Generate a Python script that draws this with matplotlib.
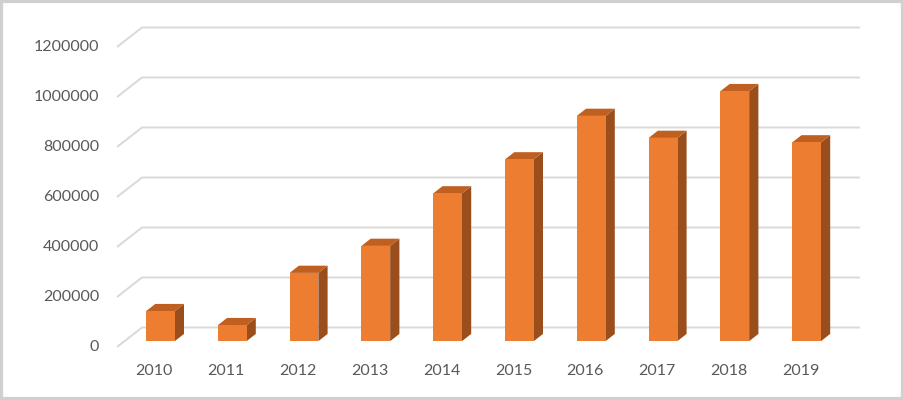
"""Excel-style 3D column chart, 2010-2019."""
import matplotlib.pyplot as plt
from matplotlib.patches import Polygon, Rectangle

years = ["2010", "2011", "2012", "2013", "2014",
         "2015", "2016", "2017", "2018", "2019"]
values = [120000, 64000, 273000, 381000, 591000,
          727000, 901000, 813000, 1000000, 795000]
y_ticks = [0, 200000, 400000, 600000, 800000, 1000000, 1200000]

FRONT = "#ed7d31"
TOP = "#bf5f20"
SIDE = "#9a4e1c"
GRID = "#d9d9d9"
TEXT = "#595959"

# oblique projection: depth d in [0, 1] shifts right and up
DX = 0.348      # categories per unit depth
DY = 78000      # value units per unit depth


def proj(cx, v, d):
    return (cx + d * DX, v + d * DY)


plt.rcParams["font.family"] = ["Lato", "DejaVu Sans"]

fig = plt.figure(figsize=(9.04, 4.0), dpi=100)
ax = fig.add_axes([0, 0, 1, 1])
ax.set_xlim(-117 / 71.8, (904 - 117) / 71.8)
ax.set_ylim(-212000, 1388000)
ax.axis("off")

# walls: side diagonal + back horizontal gridline
n = len(years)
for v in y_ticks:
    pts = [proj(0, v, 0), proj(0, v, 1), proj(n, v, 1)]
    ax.plot([p[0] for p in pts], [p[1] for p in pts], color=GRID,
            lw=1.4, solid_capstyle="butt", zorder=1)
    ax.text(-0.25, v, f"{v}", ha="right", va="center",
            fontsize=11.5, color=TEXT)

# bars
d0, d1 = 0.3, 0.67
w = 0.4
for i, (yr, v) in enumerate(zip(years, values)):
    x0 = i + 0.5 - w / 2
    x1 = i + 0.5 + w / 2
    front = [proj(x0, 0, d0), proj(x1, 0, d0), proj(x1, v, d0), proj(x0, v, d0)]
    side = [proj(x1, 0, d0), proj(x1, 0, d1), proj(x1, v, d1), proj(x1, v, d0)]
    top = [proj(x0, v, d0), proj(x1, v, d0), proj(x1, v, d1), proj(x0, v, d1)]
    ax.add_patch(Polygon(side, closed=True, fc=SIDE, ec="none", zorder=3))
    ax.add_patch(Polygon(top, closed=True, fc=TOP, ec="none", zorder=3))
    ax.add_patch(Polygon(front, closed=True, fc=FRONT, ec="none", zorder=4))
    ax.text(i + 0.52, -96000, yr, ha="center", va="center",
            fontsize=11.5, color=TEXT)

# chart frame
fig.patches.append(Rectangle((0, 0), 1, 1, transform=fig.transFigure,
                             fill=False, ec="#d0d0d0", lw=4.5))

fig.savefig("out.png", dpi=100)
